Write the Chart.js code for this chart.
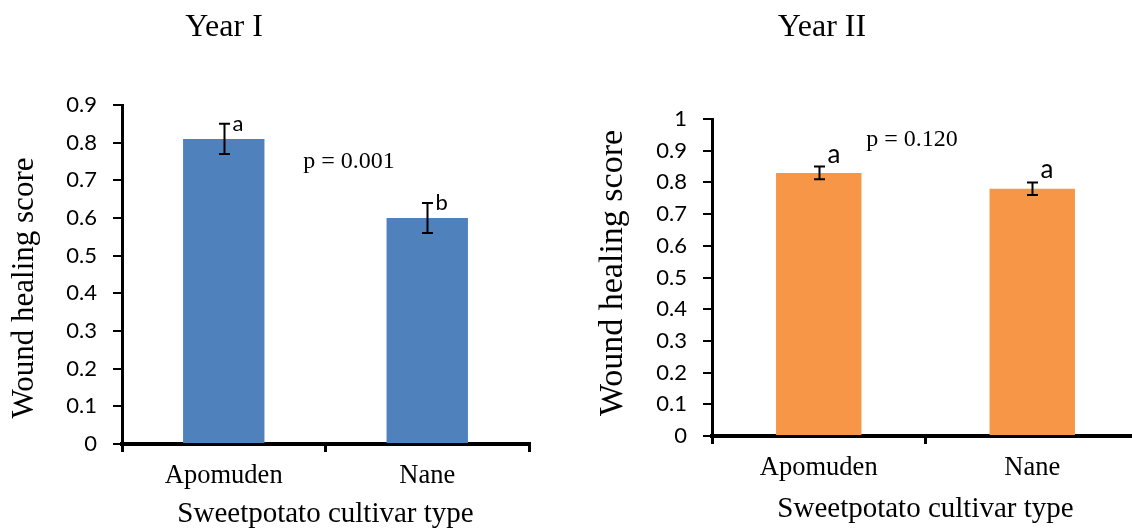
<!DOCTYPE html>
<html>
<head>
<meta charset="utf-8">
<script src="https://cdn.jsdelivr.net/npm/chart.js@4.4.1/dist/chart.umd.min.js"></script>
<style>
  html, body { margin: 0; padding: 0; background: #fff; overflow: hidden; width: 1132px; height: 529px; }
  canvas { position: absolute; top: 0; }
  #yearOne { left: 0; }
  #yearTwo { left: 580px; }
</style>
</head>
<body>
<canvas id="yearOne" width="566" height="529"></canvas>
<canvas id="yearTwo" width="559" height="529"></canvas>
<script>
// Wound healing scores of two sweetpotato cultivars in two years
const cultivars = ['Apomuden', 'Nane'];

const year1Scores = [0.81, 0.60];
const year1Errors = [0.04, 0.04];
const year1Letters = ['a', 'b'];
const year1Ticks = ['0', '0.1', '0.2', '0.3', '0.4', '0.5', '0.6', '0.7', '0.8', '0.9'];

const year2Scores = [0.83, 0.78];
const year2Errors = [0.02, 0.02];
const year2Letters = ['a', 'a'];
const year2Ticks = ['0', '0.1', '0.2', '0.3', '0.4', '0.5', '0.6', '0.7', '0.8', '0.9', '1'];

const panelTitles = ['Year I', 'Year II'];
const pValues = ['p = 0.001', 'p = 0.120'];
const yAxisTitle = 'Wound healing score';
const xAxisTitle = 'Sweetpotato cultivar type';

const SERIF = '"Liberation Serif", "Times New Roman", serif';
const SANS = 'Lato, "Open Sans", sans-serif';

// Error bars with significance letters, drawn from the dataset values
const errorBarPlugin = {
  id: 'errorBars',
  afterDatasetsDraw(chart, args, opts) {
    const ctx = chart.ctx;
    const y = chart.scales.y;
    const meta = chart.getDatasetMeta(0);
    const values = chart.data.datasets[0].data;
    ctx.save();
    ctx.strokeStyle = '#000';
    ctx.lineWidth = 2;
    meta.data.forEach((bar, i) => {
      const top = y.getPixelForValue(values[i] + opts.errors[i]);
      const bot = y.getPixelForValue(values[i] - opts.errors[i]);
      const x = Math.round(bar.x) + 0.5;
      ctx.beginPath();
      ctx.moveTo(x, top); ctx.lineTo(x, bot);
      ctx.moveTo(x - opts.cap, top); ctx.lineTo(x + opts.cap, top);
      ctx.moveTo(x - opts.cap, bot); ctx.lineTo(x + opts.cap, bot);
      ctx.stroke();
      ctx.fillStyle = '#000';
      ctx.font = opts.letterFont;
      ctx.textAlign = 'left';
      ctx.textBaseline = 'alphabetic';
      ctx.fillText(opts.letters[i], x + opts.letterDx, top + opts.letterDy);
    });
    ctx.restore();
  }
};

// Panel title, p-value note and rotated y-axis title
const panelTextPlugin = {
  id: 'panelText',
  afterDraw(chart, args, opts) {
    const ctx = chart.ctx;
    ctx.save();
    ctx.fillStyle = '#000';
    ctx.textAlign = 'center';
    ctx.textBaseline = 'middle';
    opts.items.forEach(it => {
      ctx.save();
      ctx.font = it.font;
      ctx.translate(it.x, it.y);
      if (it.rotate) ctx.rotate(it.rotate);
      ctx.fillText(it.text, 0, 0);
      ctx.restore();
    });
    ctx.restore();
  }
};

function buildPanel(canvasId, cfg) {
  return new Chart(document.getElementById(canvasId), {
    type: 'bar',
    data: {
      labels: cultivars,
      datasets: [{
        data: cfg.scores,
        backgroundColor: cfg.color,
        borderWidth: 0,
        barPercentage: 0.4,
        categoryPercentage: 1
      }]
    },
    options: {
      responsive: false,
      animation: false,
      events: [],
      layout: { padding: { top: cfg.padTop, right: cfg.padRight, left: 0, bottom: 0 } },
      plugins: {
        legend: { display: false },
        tooltip: { enabled: false },
        title: { display: false },
        errorBars: {
          errors: cfg.errors, letters: cfg.letters, cap: 5.5,
          letterFont: cfg.letterFont, letterDx: cfg.letterDx, letterDy: cfg.letterDy
        },
        panelText: { items: cfg.texts }
      },
      scales: {
        x: {
          z: 1,
          border: { display: true, color: '#000', width: 4 },
          grid: { display: true, offset: true, drawOnChartArea: false, drawTicks: true, tickLength: 8, color: '#000', lineWidth: 3 },
          ticks: { color: '#000', padding: 8, font: { family: SERIF, size: 26.5 } },
          title: {
            display: true, text: xAxisTitle, color: '#000',
            font: { family: SERIF, size: 29, lineHeight: 1 },
            padding: { top: 0, bottom: cfg.xTitlePad }
          },
          afterFit(scale) { scale.height = cfg.xHeight; }
        },
        y: {
          min: 0,
          max: cfg.max,
          border: { display: true, color: '#000', width: 3 },
          grid: { display: true, drawOnChartArea: false, drawTicks: true, tickLength: 9, color: '#000', lineWidth: 2 },
          ticks: {
            stepSize: 0.1, color: '#000', padding: 16,
            font: { family: SANS, size: 22 },
            callback: (v, i) => cfg.tickLabels[i]
          },
          afterFit(scale) { scale.width = cfg.yWidth; }
        }
      }
    },
    plugins: [errorBarPlugin, panelTextPlugin]
  });
}

function draw() {
  buildPanel('yearOne', {
    scores: year1Scores, errors: year1Errors, letters: year1Letters,
    tickLabels: year1Ticks, max: 0.9, color: '#4F81BD',
    padTop: 105, padRight: 37, yWidth: 122, xHeight: 85, xTitlePad: 0,
    letterFont: '22px ' + SANS, letterDx: 8, letterDy: 7,
    texts: [
      { text: panelTitles[0], x: 224, y: 28, font: '32px ' + SERIF },
      { text: pValues[0], x: 349, y: 162, font: '24px ' + SERIF },
      { text: yAxisTitle, x: 25, y: 288, font: '31px ' + SERIF, rotate: -Math.PI / 2 }
    ]
  });
  buildPanel('yearTwo', {
    scores: year2Scores, errors: year2Errors, letters: year2Letters,
    tickLabels: year2Ticks, max: 1, color: '#F79646',
    padTop: 119, padRight: 0, yWidth: 132, xHeight: 93, xTitlePad: 5,
    letterFont: '26px ' + SANS, letterDx: 8, letterDy: -4,
    texts: [
      { text: panelTitles[1], x: 242, y: 28, font: '32px ' + SERIF },
      { text: pValues[1], x: 332, y: 140, font: '24px ' + SERIF },
      { text: yAxisTitle, x: 33, y: 273, font: '34px ' + SERIF, rotate: -Math.PI / 2 }
    ]
  });
}

if (document.fonts && document.fonts.load) {
  Promise.all([
    document.fonts.load('20px Lato'),
    document.fonts.load('25px "Liberation Serif"')
  ]).then(draw, draw);
} else {
  draw();
}
</script>
</body>
</html>
